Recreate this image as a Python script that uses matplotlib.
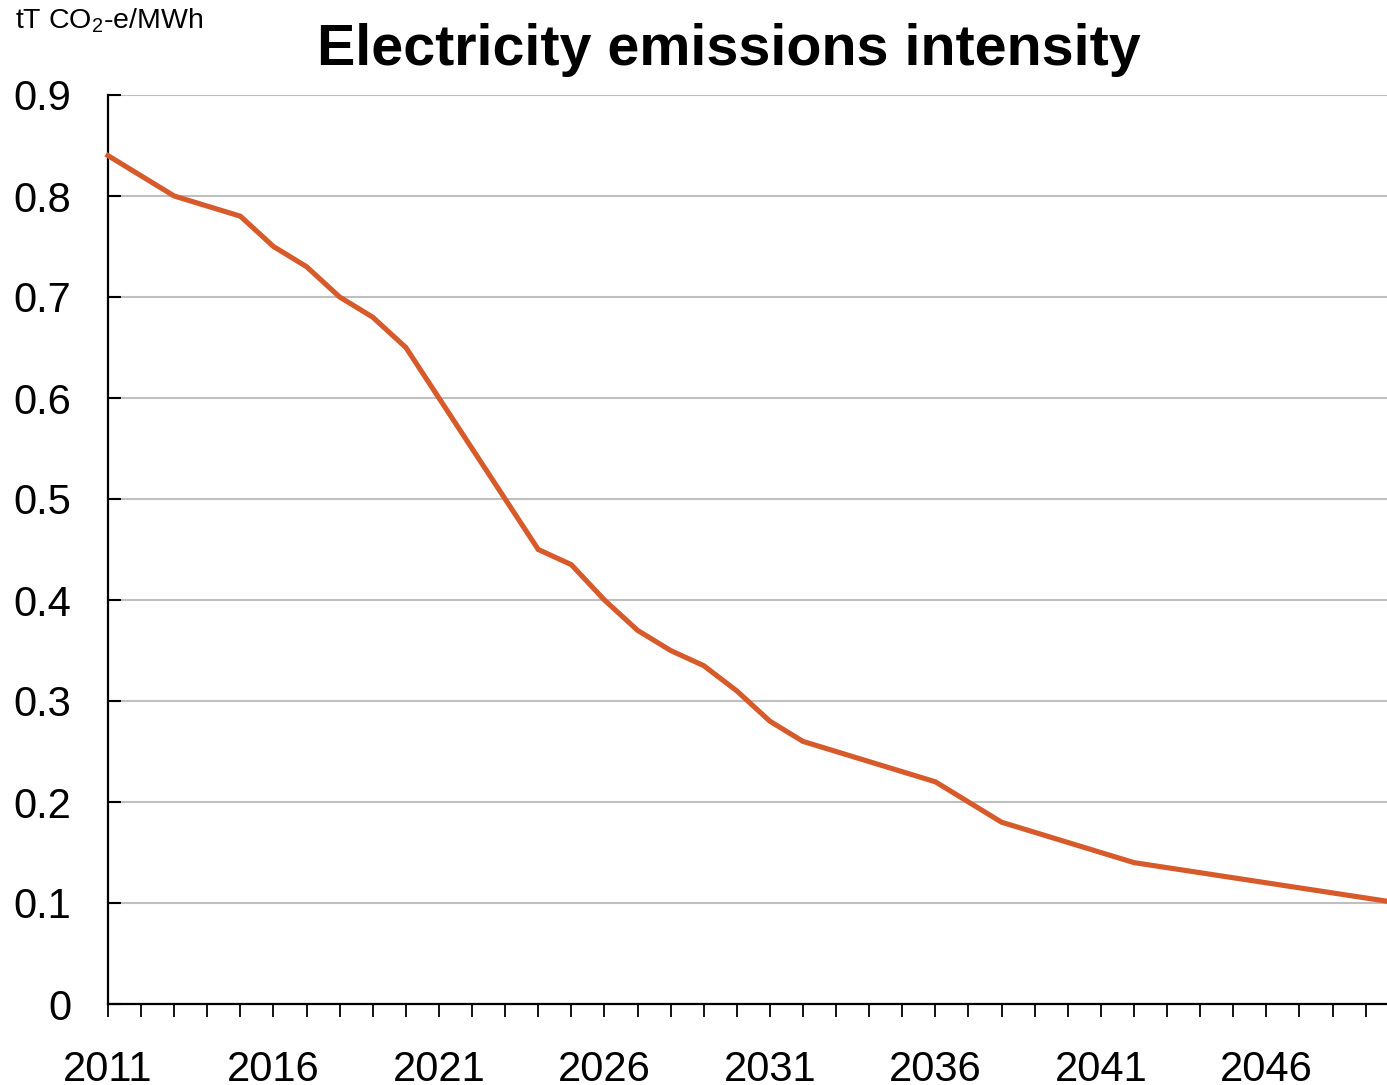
import matplotlib
matplotlib.use("Agg")
import matplotlib.pyplot as plt
import numpy as np

plt.rcParams['font.family'] = ['Liberation Sans', 'DejaVu Sans']
plt.rcParams['mathtext.default'] = 'regular'

years = list(range(2011, 2051))
intensity = [0.84, 0.82, 0.80, 0.79, 0.78, 0.75, 0.73, 0.70, 0.68, 0.65,
             0.60, 0.55, 0.50, 0.45, 0.435, 0.40, 0.37, 0.35, 0.335, 0.31,
             0.28, 0.26, 0.25, 0.24, 0.23, 0.22, 0.20, 0.18, 0.17, 0.16,
             0.15, 0.14, 0.135, 0.13, 0.125, 0.12, 0.115, 0.11, 0.105, 0.10]
y_ticks = [0, 0.1, 0.2, 0.3, 0.4, 0.5, 0.6, 0.7, 0.8, 0.9]
y_tick_labels = ['0', '0.1', '0.2', '0.3', '0.4', '0.5', '0.6', '0.7', '0.8', '0.9']
x_label_years = [2011, 2016, 2021, 2026, 2031, 2036, 2041, 2046]

W, H = 1387, 1085
fig = plt.figure(figsize=(W / 100, H / 100), dpi=100)
left_px, right_px = 108, 1398.7
bottom_px, top_px = 1004, 95
ax = fig.add_axes([left_px / W, (H - bottom_px) / H,
                   (right_px - left_px) / W, (bottom_px - top_px) / H])

ax.plot(years, intensity, color='#D75A2A', linewidth=3.7, solid_joinstyle='miter',
        clip_on=False, zorder=3)

ax.set_xlim(2011, 2050)
ax.set_ylim(0, 0.9)
ax.set_yticks(y_ticks)
ax.set_yticklabels(y_tick_labels)
ax.set_xticks(years)
ax.set_xticklabels([str(y) if y in x_label_years else '' for y in years])

ax.yaxis.grid(True, color='#BFBFBF', linewidth=1.5)
ax.set_axisbelow(True)
for s in ['top', 'right']:
    ax.spines[s].set_visible(False)
for s in ['left', 'bottom']:
    ax.spines[s].set_color('black')
    ax.spines[s].set_linewidth(1.6)

ax.tick_params(axis='y', direction='in', length=9.4, width=1.5, labelsize=30, pad=26.5)
ax.tick_params(axis='x', direction='out', length=9.4, width=1.3, labelsize=30, pad=24)

fig.text(15 / W, 1 - 21 / H, 'tT CO$_2$-e/MWh', fontsize=20.5, ha='left', va='center')
fig.text(729 / W, 1 - 50 / H, 'Electricity emissions intensity', fontsize=41.3,
         fontweight='bold', ha='center', va='center')

fig.savefig('out.png', dpi=100)
